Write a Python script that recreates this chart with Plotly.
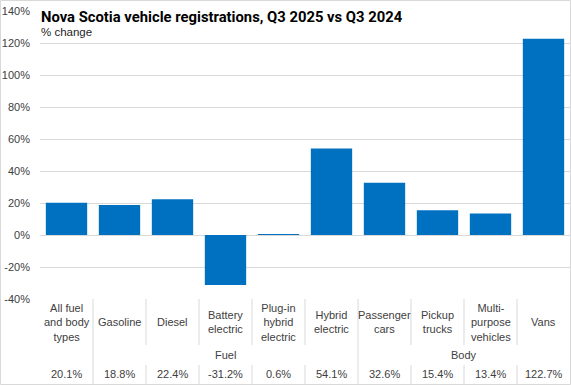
import plotly.graph_objects as go

categories = ["All fuel<br>and body<br>types", "Gasoline", "Diesel", "Battery<br>electric",
              "Plug-in<br>hybrid<br>electric", "Hybrid<br>electric", "Passenger<br>cars",
              "Pickup<br>trucks", "Multi-<br>purpose<br>vehicles", "Vans"]
values = [20.1, 18.8, 22.4, -31.2, 0.6, 54.1, 32.6, 15.4, 13.4, 122.7]
groups = [("Fuel", 1, 5), ("Body", 6, 9)]
ytick_vals = [-40, -20, 0, 20, 40, 60, 80, 100, 120, 140]
ytick_text = ["-40%", "-20%", "0%", "20%", "40%", "60%", "80%", "100%", "120%", "140%"]

W, H = 571, 385
ML, MR, MT, MB = 40, 1, 11, 86
PH = H - MT - MB
PW = W - ML - MR

def py(p):
    return (H - MB - p) / PH

def px(p):
    return (p - ML) / PW

FONT = "Liberation Sans"
TXT = "#404040"
GRID = "#d9d9d9"

x = list(range(len(values)))
fig = go.Figure(go.Bar(x=x, y=values, marker_color="#0070C0", marker_line_width=0))

shapes = []
ann = []
n = len(values)
for i in range(n - 1):
    xb = i + 0.5
    shapes.append(dict(type="line", xref="x", yref="paper", x0=xb, x1=xb, y0=py(299), y1=py(345),
                       line=dict(color=GRID, width=1)))
    shapes.append(dict(type="line", xref="x", yref="paper", x0=xb, x1=xb, y0=py(365), y1=py(384),
                       line=dict(color=GRID, width=1)))
for name, a, b in groups:
    xb = a - 0.5
    shapes.append(dict(type="line", xref="x", yref="paper", x0=xb, x1=xb, y0=py(345), y1=py(365),
                       line=dict(color=GRID, width=1)))
shapes.append(dict(type="rect", xref="paper", yref="paper",
                   x0=px(0.5), x1=px(W - 0.5), y0=py(H - 0.5), y1=py(0.5),
                   line=dict(color=GRID, width=1), layer="below"))

for i, (c, v) in enumerate(zip(categories, values)):
    ann.append(dict(x=i, y=py(322), xref="x", yref="paper", text=c, showarrow=False,
                    yanchor="middle", xanchor="center", font=dict(family=FONT, size=11, color=TXT)))
    ann.append(dict(x=i, y=py(374), xref="x", yref="paper", text=f"{v:.1f}%", showarrow=False,
                    yanchor="middle", xanchor="center", font=dict(family=FONT, size=11, color=TXT)))
for name, a, b in groups:
    ann.append(dict(x=(a + b) / 2, y=py(355), xref="x", yref="paper", text=name, showarrow=False,
                    yanchor="middle", xanchor="center", font=dict(family=FONT, size=11, color=TXT)))

ann.append(dict(x=px(39), y=py(17), xref="paper", yref="paper",
                text="<b>Nova Scotia vehicle registrations, Q3 2025 vs Q3 2024</b>", showarrow=False,
                xanchor="left", yanchor="middle",
                font=dict(family="Roboto", size=14.8, color="#000000")))
ann.append(dict(x=px(39), y=py(32), xref="paper", yref="paper", text="% change", showarrow=False,
                xanchor="left", yanchor="middle", font=dict(family=FONT, size=11.5, color="#262626")))

fig.update_layout(
    width=W, height=H, margin=dict(l=ML, r=MR, t=MT, b=MB),
    paper_bgcolor="white", plot_bgcolor="white",
    bargap=0.22, showlegend=False,
    xaxis=dict(range=[-0.5, n - 0.5], showticklabels=False, showgrid=False, zeroline=False,
               showline=False, ticks="", fixedrange=True),
    yaxis=dict(range=[-40, 140], tickvals=ytick_vals, ticktext=ytick_text, showgrid=True,
               gridcolor=GRID, gridwidth=1, zeroline=True, zerolinecolor=GRID, zerolinewidth=1,
               ticks="", ticklabelstandoff=9, tickfont=dict(family=FONT, size=11, color=TXT),
               showline=False),
    shapes=shapes, annotations=ann,
)
fig.write_html("out.html", config={"displayModeBar": False})

with open("out.html", "r", encoding="utf-8") as f:
    html = f.read()
html = html.replace("<head>", "<head><style>html,body{margin:0;padding:0;overflow:hidden;}</style>", 1)
with open("out.html", "w", encoding="utf-8") as f:
    f.write(html)
